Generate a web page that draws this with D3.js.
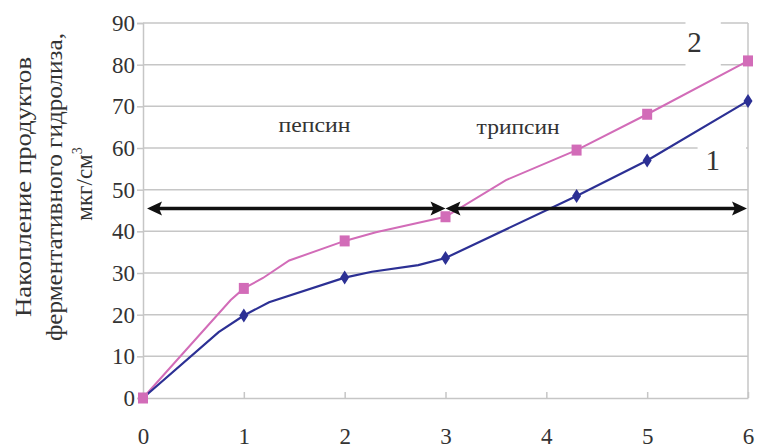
<!DOCTYPE html>
<html>
<head>
<meta charset="utf-8">
<script src="https://cdn.jsdelivr.net/npm/d3@7"></script>
<style>
  body { margin: 0; background: #fff; }
  svg { display: block; }
  svg text { font-family: "Liberation Serif", "DejaVu Serif", "Times New Roman", serif; }
</style>
</head>
<body>
<svg id="chart" width="759" height="448"></svg>
<script>
// time points and tick labels
const xTicks = [0, 1, 2, 3, 4, 5, 6];
const yTicks = [0, 10, 20, 30, 40, 50, 60, 70, 80, 90];

// measured points (markers)
const pointX = [0, 1, 2, 3, 4.3, 5, 6];
const series1 = [0, 19.8, 28.9, 33.6, 48.5, 57, 71.3];
const series2 = [0, 26.3, 37.7, 43.5, 59.5, 68.1, 80.9];

// smoothed curves as drawn (with bends between markers)
const curve1X = [0, 0.75, 1, 1.25, 2, 2.27, 2.73, 3, 4.3, 5, 6];
const curve1Y = [0, 15.8, 19.8, 23, 28.9, 30.3, 31.9, 33.6, 48.5, 57, 71.3];
const curve2X = [0, 0.87, 1, 1.19, 1.45, 2, 2.31, 3, 3.6, 4.3, 5, 6];
const curve2Y = [0, 23.5, 26.3, 28.8, 33, 37.7, 39.8, 43.5, 52.3, 59.5, 68.1, 80.9];

// enzyme phases
const phaseNames = ["пепсин", "трипсин"];
const phaseFrom = [0, 3];
const phaseTo = [3, 6];
const phaseLevel = 45.5;

const svg = d3.select("#chart");
const margin = { top: 23, right: 11, bottom: 50, left: 143 };
const width = +svg.attr("width");
const height = +svg.attr("height");

const x = d3.scaleLinear().domain([0, 6]).range([margin.left, width - margin.right]);
const y = d3.scaleLinear().domain([0, 90]).range([height - margin.bottom, margin.top]);

const gridColor = "#c6c6c6";
const textColor = "#333";
const pink = "#d26cb8";
const blue = "#2c3094";
const serif = '"Liberation Serif", "DejaVu Serif", serif';

// gridlines
svg.append("g")
    .selectAll("line")
    .data(yTicks.filter(d => d > 0))
    .enter().append("line")
    .attr("x1", x(0)).attr("x2", x(6))
    .attr("y1", d => y(d)).attr("y2", d => y(d))
    .attr("stroke", gridColor)
    .attr("stroke-width", 1.5);

// right border
svg.append("line")
    .attr("x1", x(6)).attr("x2", x(6))
    .attr("y1", y(90)).attr("y2", y(0))
    .attr("stroke", gridColor).attr("stroke-width", 1.5);

// y axis
const yAxis = svg.append("g")
    .attr("transform", `translate(${x(0)},0)`)
    .call(d3.axisLeft(y).tickValues(yTicks).tickFormat(d3.format("d")).tickSize(6).tickPadding(2));
yAxis.attr("font-family", serif);
yAxis.select(".domain").attr("stroke", gridColor).attr("stroke-width", 1.5);
yAxis.selectAll(".tick line").attr("stroke", gridColor).attr("stroke-width", 1.5);
yAxis.selectAll(".tick text")
    .attr("fill", textColor)
    .style("font-size", "23px");

// x axis (ticks inside, labels below)
const xAxis = svg.append("g")
    .attr("transform", `translate(0,${y(0)})`)
    .call(d3.axisBottom(x).tickValues(xTicks).tickFormat(d3.format("d")).tickSize(-6).tickSizeOuter(0).tickPadding(0));
xAxis.attr("font-family", serif);
xAxis.select(".domain").attr("stroke", gridColor).attr("stroke-width", 1.5);
xAxis.selectAll(".tick line").attr("stroke", gridColor).attr("stroke-width", 1.5);
xAxis.selectAll(".tick text")
    .attr("y", 46)
    .attr("dy", 0)
    .attr("fill", textColor)
    .style("font-size", "23px");

// series labels with white boxes over the grid
const seriesLabels = [
    { text: "2", x: 5.47, y: 83, box: [5.38, 5.73, 90.5, 79.5] },
    { text: "1", x: 5.65, y: 54.7, box: [5.5, 5.98, 62, 53] }
];
seriesLabels.forEach(l => {
    svg.append("rect")
        .attr("x", x(l.box[0])).attr("y", y(l.box[2]))
        .attr("width", x(l.box[1]) - x(l.box[0]))
        .attr("height", y(l.box[3]) - y(l.box[2]))
        .attr("fill", "#fff");
    svg.append("text")
        .attr("x", x(l.x)).attr("y", y(l.y))
        .attr("text-anchor", "middle")
        .attr("fill", textColor)
        .style("font-size", "29px")
        .text(l.text);
});

// curves
const line = d3.line().x(d => x(d[0])).y(d => y(d[1]));

svg.append("path")
    .datum(curve2X.map((v, i) => [v, curve2Y[i]]))
    .attr("d", line)
    .attr("fill", "none")
    .attr("stroke", pink)
    .attr("stroke-width", 2);

svg.append("path")
    .datum(curve1X.map((v, i) => [v, curve1Y[i]]))
    .attr("d", line)
    .attr("fill", "none")
    .attr("stroke", blue)
    .attr("stroke-width", 2.2);

// markers: squares for series 2, diamonds for series 1
svg.append("g")
    .selectAll("rect")
    .data(pointX.map((v, i) => [v, series2[i]]))
    .enter().append("rect")
    .attr("x", d => x(d[0]) - 5)
    .attr("y", d => y(d[1]) - 5.5)
    .attr("width", 10)
    .attr("height", 11)
    .attr("fill", pink);

svg.append("g")
    .selectAll("path")
    .data(pointX.map((v, i) => [v, series1[i]]).filter(d => d[0] > 0))
    .enter().append("path")
    .attr("transform", d => `translate(${x(d[0])},${y(d[1])})`)
    .attr("d", "M0,-7L4.5,0L0,7L-4.5,0Z")
    .attr("fill", blue);

// phase arrows
const headLen = 15, headHalf = 7;
phaseNames.forEach((name, i) => {
    const x0 = x(phaseFrom[i]) + (i === 0 ? 4 : 0);
    const x1 = x(phaseTo[i]) - (i === 0 ? 0 : 1);
    const yy = y(phaseLevel);
    svg.append("line")
        .attr("x1", x0 + 6).attr("x2", x1 - 6)
        .attr("y1", yy).attr("y2", yy)
        .attr("stroke", "#111")
        .attr("stroke-width", 3.5);
    svg.append("path")
        .attr("d", `M${x0},${yy}L${x0 + headLen},${yy - headHalf}L${x0 + headLen - 3},${yy}L${x0 + headLen},${yy + headHalf}Z`)
        .attr("fill", "#111");
    svg.append("path")
        .attr("d", `M${x1},${yy}L${x1 - headLen},${yy - headHalf}L${x1 - headLen + 3},${yy}L${x1 - headLen},${yy + headHalf}Z`)
        .attr("fill", "#111");
});

// phase labels
const phaseLabelX = [1.7, 3.72];
const phaseLabelY = [63.8, 63.4];
const phaseLabelLen = [72, 83];
phaseNames.forEach((name, i) => {
    svg.append("text")
        .attr("x", x(phaseLabelX[i])).attr("y", y(phaseLabelY[i]))
        .attr("text-anchor", "middle")
        .attr("fill", textColor)
        .attr("textLength", phaseLabelLen[i])
        .attr("lengthAdjust", "spacingAndGlyphs")
        .style("font-size", "21px")
        .text(name);
});

// y axis title
const titleLines = ["Накопление продуктов", "ферментативного гидролиза,"];
const titleLen = [260, 308];
const titleX = [31, 62, 92];
const titleY = 187;
titleLines.forEach((t, i) => {
    svg.append("text")
        .attr("transform", `translate(${titleX[i]},${titleY}) rotate(-90)`)
        .attr("text-anchor", "middle")
        .attr("fill", textColor)
        .attr("textLength", titleLen[i])
        .attr("lengthAdjust", "spacingAndGlyphs")
        .style("font-size", "24px")
        .text(t);
});
const unit = svg.append("text")
    .attr("transform", `translate(${titleX[2]},${titleY - 3}) rotate(-90)`)
    .attr("text-anchor", "middle")
    .attr("fill", textColor)
    .style("font-size", "23px");
unit.append("tspan").text("мкг/см");
unit.append("tspan").attr("dy", -10).style("font-size", "14px").text("3");
</script>
</body>
</html>
